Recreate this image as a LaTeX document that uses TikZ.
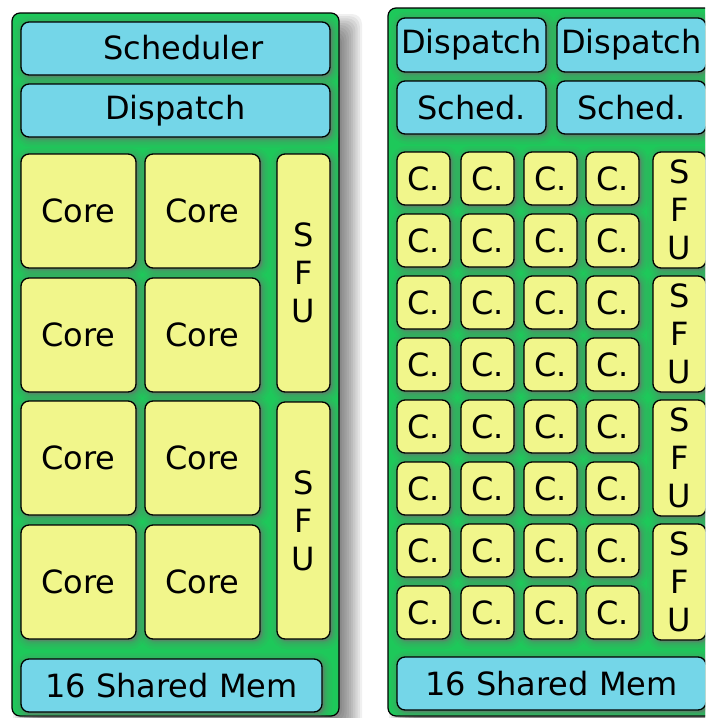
\documentclass[tikz,border=0pt]{standalone}
\usepackage{fontspec}
\setmainfont{DejaVu Sans}
\usetikzlibrary{shadows}
\definecolor{panelgreen}{HTML}{1EC85A}
\definecolor{boxblue}{HTML}{74D6E8}
\definecolor{boxyellow}{HTML}{F1F68B}
\definecolor{halo}{HTML}{707070}
\newcommand\mkbox[7]{\node[#2, minimum width={#5-(#3)}, minimum height={#6-(#4)}] (#1) at ({((#3)+(#5))/2},{((#4)+(#6))/2}) {#7};}
\newcommand\panelshadow[4]{%
  \foreach \i in {0,...,10}{%
    \pgfmathsetmacro\e{-11+2.2*\i}%
    \fill[black, opacity=0.06, rounded corners=10pt] ({#1+12-\e},{#2+12-\e}) rectangle ({#3+12+\e},{#4+12+\e});}}
\begin{document}
\begin{tikzpicture}[x=1pt,y=-1pt,
  base/.style={draw=black, line width=1.3pt, rounded corners=8pt, inner sep=0pt,
    font=\fontsize{32}{38}\selectfont, text=black, align=center},
  glow/.style={
    general shadow={shadow xshift=2pt,shadow yshift=-2pt,fill=halo,draw=halo,line width=16pt,opacity=0.08},
    general shadow={shadow xshift=2pt,shadow yshift=-2pt,fill=halo,draw=halo,line width=11pt,opacity=0.10},
    general shadow={shadow xshift=2pt,shadow yshift=-2pt,fill=halo,draw=halo,line width=6pt,opacity=0.14},
    general shadow={shadow xshift=2pt,shadow yshift=-2pt,fill=halo,draw=halo,line width=2.5pt,opacity=0.2}},
  bluebox/.style={base, glow, fill=boxblue},
  yelbox/.style={base, glow, fill=boxyellow},
  panel/.style={draw=black, line width=1.2pt, rounded corners=8pt, fill=panelgreen, inner sep=0pt}
]
\useasboundingbox (0,0) rectangle (705,718);
\clip (0,0) rectangle (705,718);

% ---------- left multiprocessor ----------
\panelshadow{12}{13}{339}{716}
\mkbox{leftsm}{panel}{12}{13}{339}{716}{}
\mkbox{lsched}{bluebox}{21}{22}{330}{75}{\hspace*{16pt}\raisebox{3pt}{Scheduler}}
\mkbox{ldisp}{bluebox}{21}{84}{330}{137}{Dispatch}
\foreach \c/\xa in {1/21,2/145}{
  \foreach \r/\ya in {1/154,2/278,3/401,4/525}{
    \mkbox{lc\r\c}{yelbox}{\xa}{\ya}{\xa+115}{\ya+114}{Core}
  }}
\mkbox{lsfua}{yelbox}{277}{154}{330}{392}{S\\F\\U}
\mkbox{lsfub}{yelbox}{277}{402}{330}{639}{S\\F\\U}
\mkbox{lmem}{bluebox}{21}{659}{322}{712}{16 Shared Mem}

% ---------- right multiprocessor ----------
\panelshadow{388}{8}{716}{716}
\mkbox{rightsm}{panel}{388}{8}{716}{716}{}
\mkbox{rdispa}{bluebox}{397}{18}{546}{72}{Dispatch}
\mkbox{rdispb}{bluebox}{557}{18}{706}{72}{Dispatch}
\mkbox{rscheda}{bluebox}{397}{81}{546}{134}{Sched.}
\mkbox{rschedb}{bluebox}{557}{81}{706}{134}{Sched.}
\foreach \c/\xa in {1/397,2/461,3/524,4/586}{
  \foreach \r in {0,...,7}{
    \pgfmathsetmacro\ya{152+62*\r}
    \mkbox{rc\r\c}{yelbox}{\xa}{\ya}{\xa+53}{\ya+53}{C.}
  }}
\foreach \k in {0,...,3}{
  \pgfmathsetmacro\ya{152+124*\k}
  \mkbox{rsfu\k}{yelbox}{653}{\ya}{706}{\ya+116}{S\\F\\U}
}
\mkbox{rmem}{bluebox}{397}{657}{706}{710}{16 Shared Mem}
\end{tikzpicture}
\end{document}
